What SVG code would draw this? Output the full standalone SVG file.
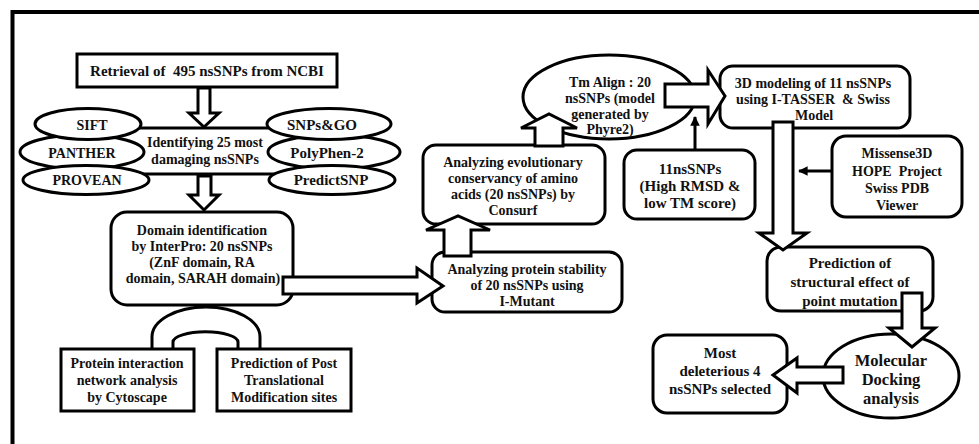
<svg xmlns="http://www.w3.org/2000/svg" width="979" height="444" viewBox="0 0 979 444">
<style>
.b{fill:#fff;stroke:#000;stroke-width:3}
.a{fill:#fff;stroke:#000;stroke-width:3;stroke-linejoin:miter}
.ln{fill:none;stroke:#000;stroke-width:3}
.fr{fill:none;stroke:#000;stroke-width:4}
text{font-family:"Liberation Serif","Times New Roman",serif;font-weight:bold;font-size:14px;text-anchor:middle;fill:#111}
.s15{font-size:15px}
.s16{font-size:16.5px}
</style>
<defs>
<marker id="ah" viewBox="0 0 10 10" refX="9" refY="5" markerWidth="3.2" markerHeight="3.2" orient="auto" markerUnits="strokeWidth">
<path d="M0,0 L10,5 L0,10 z" fill="#000"/>
</marker>
</defs>
<rect width="979" height="444" fill="#fff"/>
<path class="fr" d="M12.5,444 V12 H979"/>

<g id="n-retrieval">
<rect class="b" x="77" y="54" width="260" height="33"/>
<text class="s15" x="207" y="76" xml:space="preserve">Retrieval of  495 nsSNPs from NCBI</text>
</g>

<g id="n-identify">
<line class="ln" x1="130" y1="128" x2="280" y2="128"/>
<line class="ln" x1="130" y1="174" x2="280" y2="174"/>
<text x="205" y="147">Identifying 25 most</text>
<text x="205" y="164">damaging nsSNPs</text>
</g>
<g id="n-panther"><ellipse class="b" cx="82" cy="152" rx="62" ry="17"/><text x="82" y="158">PANTHER</text></g>
<g id="n-sift"><ellipse class="b" cx="88" cy="124" rx="53" ry="15.5"/><text x="92" y="130">SIFT</text></g>
<g id="n-provean"><ellipse class="b" cx="86" cy="180" rx="63" ry="14.5"/><text x="87" y="185">PROVEAN</text></g>
<g id="n-polyphen"><ellipse class="b" cx="334" cy="152" rx="66" ry="17"/><text class="s15" x="327" y="158">PolyPhen-2</text></g>
<g id="n-snpsgo"><ellipse class="b" cx="329" cy="124" rx="62" ry="15.5"/><text class="s15" x="322" y="130">SNPs&amp;GO</text></g>
<g id="n-predictsnp"><ellipse class="b" cx="332" cy="180" rx="63" ry="14.5"/><text class="s15" x="331" y="185">PredictSNP</text></g>

<g id="n-domain">
<rect class="b" x="111" y="212" width="182" height="93" rx="16"/>
<text x="202" y="235">Domain identification</text>
<text x="202" y="251">by InterPro: 20 nsSNPs</text>
<text x="202" y="267">(ZnF domain, RA</text>
<text x="203" y="283">domain, SARAH domain)</text>
</g>

<g id="n-ppi">
<rect class="b" x="61" y="349" width="133" height="62"/>
<text x="127" y="368">Protein interaction</text>
<text x="127" y="385">network analysis</text>
<text x="127" y="402">by Cytoscape</text>
</g>

<g id="n-ptm">
<rect class="b" x="217" y="349" width="134" height="62"/>
<text x="284" y="368">Prediction of Post</text>
<text x="284" y="385">Translational</text>
<text x="284" y="402">Modification sites</text>
</g>

<g id="n-stability">
<rect class="b" x="432" y="252" width="190" height="60" rx="13"/>
<text x="527" y="274">Analyzing protein stability</text>
<text x="527" y="290">of 20 nsSNPs using</text>
<text x="527" y="306">I-Mutant</text>
</g>

<g id="n-consurf">
<rect class="b" x="423" y="145" width="182" height="79" rx="13"/>
<text x="513" y="167">Analyzing evolutionary</text>
<text x="513" y="183">conservancy of amino</text>
<text x="513" y="199">acids (20 nsSNPs) by</text>
<text x="513" y="215">Consurf</text>
</g>

<g id="n-tmalign">
<ellipse class="b" cx="609" cy="97" rx="86" ry="42"/>
<text x="610" y="87">Tm Align : 20</text>
<text x="610" y="103">nsSNPs (model</text>
<text x="610" y="119">generated by</text>
<text x="610" y="134">Phyre2)</text>
</g>

<g id="n-11nssnps">
<rect class="b" x="624" y="150" width="131" height="69" rx="13"/>
<text class="s15" x="690" y="174">11nsSNPs</text>
<text class="s15" x="690" y="191">(High RMSD &amp;</text>
<text class="s15" x="690" y="208">low TM score)</text>
</g>

<g id="n-3d">
<rect class="b" x="720" y="66" width="190" height="62" rx="13"/>
<text x="813" y="88">3D modeling of 11 nsSNPs</text>
<text x="813" y="104" xml:space="preserve">using I-TASSER  &amp; Swiss</text>
<text x="814" y="120">Model</text>
</g>

<g id="n-missense">
<rect class="b" x="832" y="136" width="130" height="81" rx="14"/>
<text x="897" y="158">Missense3D</text>
<text x="897" y="176" xml:space="preserve">HOPE  Project</text>
<text x="897" y="193">Swiss PDB</text>
<text x="897" y="210">Viewer</text>
</g>

<g id="n-prediction">
<rect class="b" x="767" y="247" width="166" height="64" rx="14"/>
<text class="s15" x="850" y="268">Prediction of</text>
<text class="s15" x="850" y="287">structural effect of</text>
<text class="s15" x="850" y="306">point mutation</text>
</g>

<g id="n-docking">
<ellipse class="b" cx="891" cy="376" rx="68" ry="42"/>
<text class="s16" x="891" y="366">Molecular</text>
<text class="s16" x="891" y="385">Docking</text>
<text class="s16" x="891" y="404">analysis</text>
</g>

<g id="n-most">
<rect class="b" x="653" y="335" width="134" height="78" rx="14"/>
<text class="s15" x="720" y="358">Most</text>
<text class="s15" x="720" y="376">deleterious 4</text>
<text class="s15" x="720" y="394">nsSNPs selected</text>
</g>

<g id="connectors">
<polygon class="a" points="198,88 210,88 210,113 219,113 204,127 189,113 198,113"/>
<polygon class="a" points="198,176 211,176 211,195 219,195 204,210 189,195 198,195"/>
<polygon class="a" points="283,277 417,277 417,268 443,286 417,303 417,294 283,294"/>
<polygon class="a" points="444,256 471,256 471,230 490,230 458,216 426,230 444,230"/>
<polygon class="a" points="535,146 563,146 563,128 577,128 549,114 521,128 535,128"/>
<polygon class="a" points="665,84 708,84 708,70 725,96 708,124 708,107 665,107"/>
<polygon class="a" points="773,122 793,122 793,233 807,233 783,250 759,233 773,233"/>
<polygon class="a" points="902,293 922,293 922,328 935,328 912,347 889,328 902,328"/>
<polygon class="a" points="843,367 797,367 797,358 773,375 797,393 797,383 843,383"/>
<line class="ln" x1="695" y1="150" x2="695" y2="117" marker-end="url(#ah)"/>
<line class="ln" x1="832" y1="171" x2="799" y2="171" marker-end="url(#ah)"/>
<path class="ln" stroke-width="3.5" d="M152,349 V337 A54,30 0 0 1 260,337 V349"/>
<path class="ln" stroke-width="3.5" d="M173,349 V342 A32,10 0 0 1 238,342 V349"/>
</g>
</svg>
